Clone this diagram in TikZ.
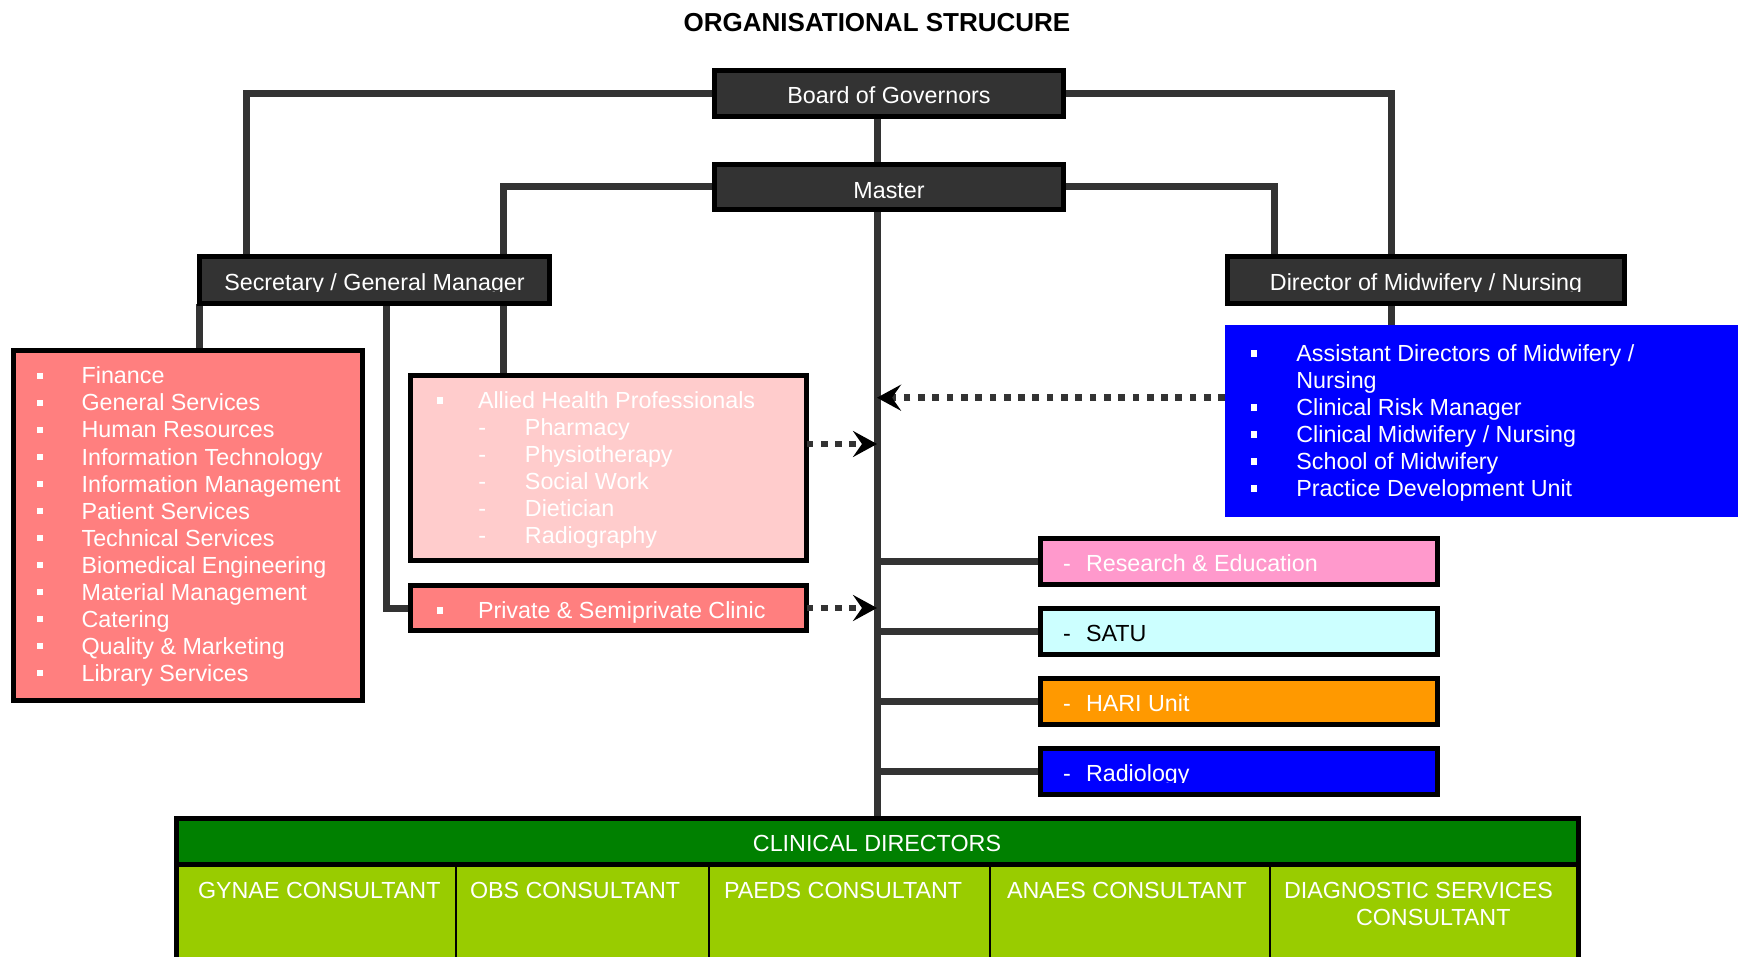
\documentclass[tikz,border=0pt]{standalone}
\usepackage{fontspec}
\setmainfont{Liberation Sans}
\usetikzlibrary{arrows.meta,backgrounds}
\definecolor{darkbox}{HTML}{333333}
\definecolor{linec}{HTML}{333333}
\definecolor{salmon}{HTML}{FF7F7F}
\definecolor{alliedc}{HTML}{FFCCCC}
\definecolor{bluec}{HTML}{0000FF}
\definecolor{resc}{HTML}{FF99CC}
\definecolor{satuc}{HTML}{CCFFFF}
\definecolor{haric}{HTML}{FF9900}
\definecolor{greenc}{HTML}{008000}
\definecolor{limec}{HTML}{99CC00}
\newcommand\mybul{\rule[4.7pt]{6pt}{6.6pt}}
\newcommand\fs{\fontsize{23.3pt}{27pt}\selectfont}
\begin{document}
\begin{tikzpicture}[x=1pt,y=-1pt,
  box/.style={rectangle, draw=black, line width=5pt, inner sep=0pt, outer sep=0pt},
  dbox/.style={box, fill=darkbox},
  lab/.style={inner sep=0pt, outer sep=0pt, anchor=base west, font=\fs, text=white},
  clab/.style={inner sep=0pt, outer sep=0pt, anchor=base, font=\fs, text=white},
  conn/.style={draw=linec, line width=7pt},
  darr/.style={draw=linec, line width=6.7pt, dash pattern=on 6.7pt off 7.6pt, -{Stealth[length=24pt,width=26pt,inset=9pt,color=black]}},
  cell/.style={rectangle, draw=black, line width=1.5pt, fill=limec, inner sep=0pt, outer sep=0pt, anchor=north west, minimum height=130pt}
]
\useasboundingbox (0,0) rectangle (1738,957);

\node[font=\bfseries\fontsize{26pt}{30pt}\selectfont, inner sep=0pt, anchor=base] (title) at (877,31.7) {ORGANISATIONAL STRUCURE};

% top boxes
\node[dbox, minimum width=349pt, minimum height=46pt] (board) at (889,93.5) {};
\node[clab] (boardt) at (889,104) {Board of Governors};
\node[dbox, minimum width=349pt, minimum height=45pt] (master) at (889,187) {};
\node[clab] (mastert) at (889,198.3) {Master};
\node[dbox, minimum width=350pt, minimum height=46.7pt] (sec) at (374.8,280.2) {};
\begin{scope}
\clip (190,250) rectangle (560,291.4);
\node[clab] (sect) at (374.5,291) {Secretary / General Manager};
\end{scope}
\node[dbox, minimum width=397pt, minimum height=46.7pt] (dir) at (1426,280.2) {};
\begin{scope}
\clip (1220,250) rectangle (1630,291.4);
\node[clab] (dirt) at (1426,291) {Director of Midwifery / Nursing};
\end{scope}

% Finance box
\node[box, fill=salmon, minimum width=349pt, minimum height=349.7pt] (fin) at (188,525.7) {};
\foreach \t [count=\i from 0] in {Finance, General Services, Human Resources, Information Technology, Information Management, Patient Services, Technical Services, Biomedical Engineering, Material Management, Catering, Quality \& Marketing, Library Services}
  \node[lab] (fin\i) at (36.7,{384+27*\i}) {\makebox[44.9pt][l]{\mybul}\t};

% Allied box
\node[box, fill=alliedc, minimum width=396pt, minimum height=185pt] (allied) at (608.5,468) {};
\node[lab] (ah0) at (436.7,408.3) {\makebox[41.3pt][l]{\mybul}Allied Health Professionals};
\foreach \t [count=\i] in {Pharmacy, Physiotherapy, Social Work, Dietician, Radiography}
  \node[lab] (ah\i) at (478.4,{408.3+27*\i}) {\makebox[46.6pt][l]{-}\t};

% Private box
\node[box, fill=salmon, minimum width=396pt, minimum height=45.6pt] (priv) at (608.5,608) {};
\node[lab] (privt) at (436.7,618.3) {\makebox[41.3pt][l]{\mybul}Private \& Semiprivate Clinic};

% Blue box
\node[rectangle, fill=bluec, inner sep=0pt, outer sep=0pt, minimum width=520pt, minimum height=192pt] (blue) at (1485,421) {};
\node[lab] (bl0) at (1251,361.7) {\makebox[45.4pt][l]{\mybul}Assistant Directors of Midwifery /};
\node[lab] (bl1) at (1296.4,388.7) {Nursing};
\node[lab] (bl2) at (1251,415.7) {\makebox[45.4pt][l]{\mybul}Clinical Risk Manager};
\node[lab] (bl3) at (1251,442.7) {\makebox[45.4pt][l]{\mybul}Clinical Midwifery / Nursing};
\node[lab] (bl4) at (1251,469.7) {\makebox[45.4pt][l]{\mybul}School of Midwifery};
\node[lab] (bl5) at (1251,496.7) {\makebox[45.4pt][l]{\mybul}Practice Development Unit};

% right boxes
\node[box, fill=resc, minimum width=396.7pt, minimum height=46.6pt] (res) at (1239.2,561.5) {};
\node[lab] (rest) at (1063,571.7) {\makebox[23pt][l]{-}Research \& Education};
\node[box, fill=satuc, minimum width=396.7pt, minimum height=46.6pt] (satu) at (1239.2,631.5) {};
\node[lab, text=black] (satut) at (1063,641.7) {\makebox[23pt][l]{-}SATU};
\node[box, fill=haric, minimum width=396.7pt, minimum height=46.6pt] (hari) at (1239.2,701.5) {};
\node[lab] (harit) at (1063,711.7) {\makebox[23pt][l]{-}HARI Unit};
\node[box, fill=bluec, minimum width=396.7pt, minimum height=46.6pt] (rad) at (1239.2,771.5) {};
\begin{scope}
\clip (1040,750) rectangle (1440,782);
\node[lab] (radt) at (1063,781.7) {\makebox[23pt][l]{-}Radiology};
\end{scope}

% clinical directors table
\node[cell, minimum width=280pt] (c1) at (176,864.5) {};
\node[cell, minimum width=253pt] (c2) at (456,864.5) {};
\node[cell, minimum width=281pt] (c3) at (709,864.5) {};
\node[cell, minimum width=280pt] (c4) at (990,864.5) {};
\node[cell, minimum width=308pt] (c5) at (1270,864.5) {};
\node[box, fill=greenc, minimum width=1402pt, minimum height=46pt] (cd) at (877,841.5) {};
\draw[line width=5pt] (cd.south west) -- ++(0,130);
\draw[line width=5pt] (cd.south east) -- ++(0,130);
\node[clab] (cdt) at (877,851.7) {CLINICAL DIRECTORS};
\node[lab] (c1t) at (198,898.3) {GYNAE CONSULTANT};
\node[lab] (c2t) at (470,898.3) {OBS CONSULTANT};
\node[lab] (c3t) at (724,898.3) {PAEDS CONSULTANT};
\node[lab] (c4t) at (1007,898.3) {ANAES CONSULTANT};
\node[lab] (c5t) at (1284,898.3) {DIAGNOSTIC SERVICES};
\node[lab] (c5u) at (1356,925.3) {CONSULTANT};

% connectors
\coordinate (sp) at (877,0);
\begin{pgfonlayer}{background}
\draw[conn] (board.south -| sp) -- (cd.north -| sp);
\draw[conn] (board.west) -| ([xshift=46.5pt]sec.north west);
\draw[conn] (board.east) -| ([xshift=163.5pt]dir.north west);
\draw[conn] (master.west) -| ([xshift=303.5pt]sec.north west);
\draw[conn] (master.east) -| ([xshift=46.5pt]dir.north west);
\coordinate (sA) at (sec.south west);
\coordinate (sB) at ([xshift=187pt]sec.south west);
\coordinate (sC) at ([xshift=303.5pt]sec.south west);
\draw[conn] (sA) -- (sA |- fin.north);
\draw[conn] (sB) |- (priv.west);
\draw[conn] (sC) -- (sC |- allied.north);
\coordinate (dA) at ([xshift=163.5pt]dir.south west);
\draw[conn] (dA) -- (dA |- blue.north);
\draw[conn] (res.west -| sp) -- (res.west);
\draw[conn] (satu.west -| sp) -- (satu.west);
\draw[conn] (hari.west -| sp) -- (hari.west);
\draw[conn] (rad.west -| sp) -- (rad.west);
\end{pgfonlayer}

% dotted arrows
\coordinate (bA) at ([yshift=23.3pt]blue.west);
\draw[darr] (bA) -- (bA -| sp);
\coordinate (aA) at ([yshift=24pt]allied.east);
\draw[darr] (aA) -- (aA -| sp);
\draw[darr] (priv.east) -- (priv.east -| sp);
\end{tikzpicture}
\end{document}
